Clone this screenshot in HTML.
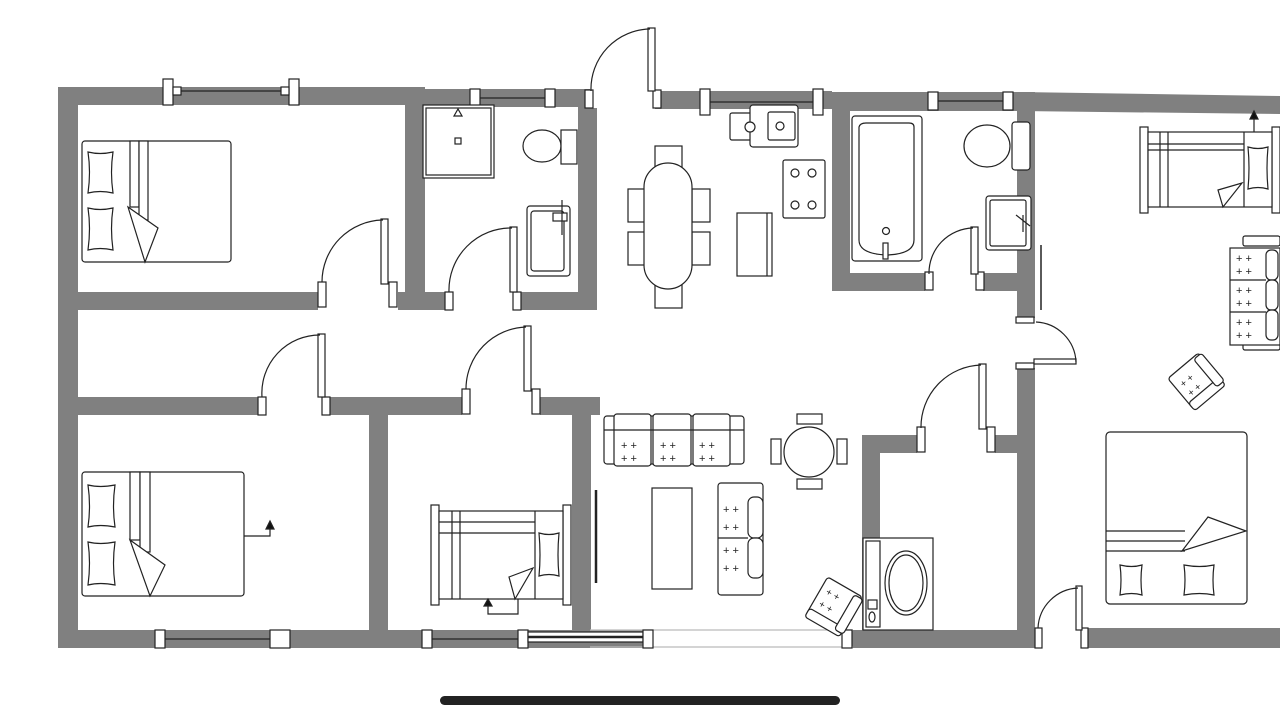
<!DOCTYPE html>
<html><head><meta charset="utf-8"><style>
html,body{margin:0;padding:0;background:#fff;width:1280px;height:720px;overflow:hidden}
svg{display:block}
</style></head><body>
<svg width="1280" height="720" viewBox="0 0 1280 720" xmlns="http://www.w3.org/2000/svg">
<g fill="#808080">
<rect x="58" y="87" width="20" height="561"/>
<rect x="58" y="87" width="367" height="18"/>
<rect x="405" y="89" width="185" height="18"/>
<rect x="655" y="91" width="177" height="18"/>
<rect x="832" y="92" width="190" height="19"/>
<polygon points="1018,92 1280,96 1280,114 1018,111"/>
<rect x="58" y="630" width="795" height="18"/>
<rect x="853" y="630" width="182" height="18"/>
<rect x="1088" y="628" width="192" height="20"/>
<rect x="405" y="87" width="20" height="223"/>
<rect x="578" y="90" width="19" height="220"/>
<rect x="58" y="292" width="539" height="18"/>
<rect x="58" y="397" width="542" height="18"/>
<rect x="369" y="397" width="19" height="251"/>
<rect x="572" y="397" width="19" height="251"/>
<rect x="832" y="92" width="18" height="199"/>
<rect x="832" y="273" width="190" height="18"/>
<rect x="1017" y="92" width="18" height="226"/>
<rect x="1017" y="368" width="18" height="280"/>
<rect x="862" y="435" width="160" height="18"/>
<rect x="862" y="435" width="18" height="195"/>
</g>
<g fill="#fff" stroke="#222" stroke-width="1.2">
<rect x="318" y="291" width="80" height="20" stroke="none"/>
<rect x="445" y="291" width="75" height="20" stroke="none"/>
<rect x="258" y="396" width="72" height="20" stroke="none"/>
<rect x="462" y="396" width="78" height="20" stroke="none"/>
<rect x="590" y="86" width="68" height="22" stroke="none"/>
<rect x="925" y="272" width="58" height="20" stroke="none"/>
<rect x="917" y="434" width="78" height="20" stroke="none"/>
<rect x="1016" y="318" width="20" height="50" stroke="none"/>
<rect x="1035" y="627" width="53" height="22" stroke="none"/>
<rect x="653" y="629" width="190" height="20" stroke="none"/>
<line x1="590" y1="630" x2="853" y2="630" stroke="#bbb"/>
<line x1="590" y1="647" x2="853" y2="647" stroke="#bbb"/>
<rect x="163" y="79" width="10" height="26"/><rect x="289" y="79" width="10" height="26"/>
<rect x="173" y="87" width="8" height="8"/><rect x="281" y="87" width="8" height="8"/>
<line x1="181" y1="91" x2="281" y2="91"/>
<rect x="470" y="89" width="10" height="18"/><rect x="545" y="89" width="10" height="18"/>
<line x1="480" y1="98" x2="545" y2="98"/>
<rect x="700" y="89" width="10" height="26"/><rect x="813" y="89" width="10" height="26"/>
<line x1="710" y1="102" x2="813" y2="102"/>
<rect x="928" y="92" width="10" height="18"/><rect x="1003" y="92" width="10" height="18"/>
<line x1="938" y1="101" x2="1003" y2="101"/>
<rect x="155" y="630" width="10" height="18"/><rect x="270" y="630" width="20" height="18"/>
<line x1="165" y1="639" x2="270" y2="639"/>
<rect x="422" y="630" width="10" height="18"/><rect x="518" y="630" width="10" height="18"/>
<line x1="432" y1="639" x2="518" y2="639"/>
<rect x="528" y="632" width="115" height="10" fill="#fff"/>
<line x1="528" y1="637" x2="643" y2="637" stroke-width="2.5"/>
<rect x="643" y="630" width="10" height="18"/><rect x="842" y="630" width="10" height="18"/>
<rect x="318" y="282" width="8" height="25"/><rect x="389" y="282" width="8" height="25"/>
<rect x="381" y="219" width="7" height="65"/><path d="M322,282 A62,62 0 0 1 383,220" fill="none"/>
<rect x="445" y="292" width="8" height="18"/><rect x="513" y="292" width="8" height="18"/>
<rect x="510" y="227" width="7" height="65"/><path d="M449,292 A62,62 0 0 1 512,228" fill="none"/>
<rect x="258" y="397" width="8" height="18"/><rect x="322" y="397" width="8" height="18"/>
<rect x="318" y="334" width="7" height="63"/><path d="M262,397 A58,58 0 0 1 320,335" fill="none"/>
<rect x="462" y="389" width="8" height="25"/><rect x="532" y="389" width="8" height="25"/>
<rect x="524" y="326" width="7" height="65"/><path d="M466,389 A62,62 0 0 1 526,327" fill="none"/>
<rect x="585" y="90" width="8" height="18"/><rect x="653" y="90" width="8" height="18"/>
<rect x="648" y="28" width="7" height="63"/><path d="M591,91 A60,60 0 0 1 650,29" fill="none"/>
<rect x="925" y="272" width="8" height="18"/><rect x="976" y="272" width="8" height="18"/>
<rect x="971" y="227" width="7" height="47"/><path d="M929,274 A45,45 0 0 1 973,228" fill="none"/>
<rect x="917" y="427" width="8" height="25"/><rect x="987" y="427" width="8" height="25"/>
<rect x="979" y="364" width="7" height="65"/><path d="M921,428 A62,62 0 0 1 981,365" fill="none"/>
<rect x="1016" y="317" width="18" height="6"/><rect x="1016" y="363" width="18" height="6"/>
<rect x="1034" y="359" width="42" height="5"/><path d="M1036,322 A42,42 0 0 1 1076,362" fill="none"/>
<line x1="1041" y1="245" x2="1041" y2="310" stroke-width="1.5"/>
<rect x="1035" y="628" width="7" height="20"/><rect x="1081" y="628" width="7" height="20"/>
<rect x="1076" y="586" width="6" height="44"/><path d="M1038,628 A42,42 0 0 1 1078,588" fill="none"/>
<rect x="82" y="141" width="149" height="121" rx="3"/>
<rect x="130" y="141" width="9" height="66"/><rect x="139" y="141" width="9" height="79"/>
<path d="M88,152 Q100,155 113,152 Q110,172 113,193 Q100,190 88,193 Q91,172 88,152Z"/>
<path d="M88,208 Q100,211 113,208 Q110,228 113,250 Q100,247 88,250 Q91,228 88,208Z"/>
<polygon points="128,207 158,228 145,262"/>
<rect x="82" y="472" width="162" height="124" rx="3"/>
<rect x="130" y="472" width="10" height="68"/><rect x="140" y="472" width="10" height="80"/>
<path d="M88,485 Q100,488 115,485 Q112,506 115,527 Q100,524 88,527 Q91,506 88,485Z"/>
<path d="M88,542 Q100,545 115,542 Q112,563 115,585 Q100,582 88,585 Q91,563 88,542Z"/>
<polygon points="130,540 165,565 150,596"/>
<polyline points="244,536 270,536 270,527" fill="none"/><polygon points="266,529 274,529 270,521" fill="#111"/>
<rect x="431" y="505" width="8" height="100"/><rect x="563" y="505" width="8" height="100"/>
<rect x="439" y="511" width="124" height="88"/>
<line x1="439" y1="522" x2="535" y2="522"/><line x1="439" y1="533" x2="535" y2="533"/>
<line x1="452" y1="511" x2="452" y2="599"/><line x1="460" y1="511" x2="460" y2="599"/>
<line x1="535" y1="511" x2="535" y2="599"/>
<path d="M539,533 Q549,536 559,533 Q557,555 559,576 Q549,573 539,576 Q541,555 539,533Z"/>
<polygon points="509,577 533,568 515,599"/>
<polyline points="488,606 488,614 518,614 518,599" fill="none"/><polygon points="484,606 492,606 488,599" fill="#111"/>
<rect x="423" y="105" width="71" height="73"/><rect x="426" y="108" width="65" height="67"/>
<polygon points="454,116 462,116 458,109"/><rect x="455" y="138" width="6" height="6"/>
<ellipse cx="542" cy="146" rx="19" ry="16"/><rect x="561" y="130" width="16" height="34"/>
<rect x="527" y="206" width="43" height="70" rx="3"/><rect x="531" y="211" width="33" height="60" rx="3"/>
<rect x="553" y="213" width="14" height="8"/><line x1="562" y1="200" x2="562" y2="235"/>
<rect x="730" y="113" width="40" height="27" rx="2"/><rect x="750" y="105" width="48" height="42" rx="3"/>
<rect x="768" y="112" width="27" height="28" rx="2"/>
<circle cx="750" cy="127" r="5"/><circle cx="780" cy="126" r="4"/>
<rect x="783" y="160" width="42" height="58" rx="2"/>
<circle cx="795" cy="173" r="4"/><circle cx="812" cy="173" r="4"/><circle cx="795" cy="205" r="4"/><circle cx="812" cy="205" r="4"/>
<rect x="737" y="213" width="35" height="63"/><line x1="767" y1="213" x2="767" y2="276"/>
<rect x="655" y="146" width="27" height="24"/><rect x="655" y="284" width="27" height="24"/>
<rect x="628" y="189" width="18" height="33"/><rect x="628" y="232" width="18" height="33"/>
<rect x="692" y="189" width="18" height="33"/><rect x="692" y="232" width="18" height="33"/>
<rect x="644" y="163" width="48" height="126" rx="24"/>
<rect x="852" y="116" width="70" height="145" rx="3"/>
<path d="M859,127 Q860,123 866,123 L909,123 Q914,123 914,127 L914,240 Q914,254 887,255 Q859,254 859,240Z"/>
<circle cx="886" cy="231" r="3.5"/><rect x="883" y="243" width="5" height="16"/>
<ellipse cx="987" cy="146" rx="23" ry="21"/><rect x="1012" y="122" width="18" height="48" rx="3"/>
<rect x="986" y="196" width="45" height="54" rx="3"/><rect x="990" y="200" width="36" height="46" rx="2"/>
<line x1="1016" y1="215" x2="1030" y2="226"/><line x1="1023" y1="215" x2="1023" y2="232"/>
<rect x="604" y="416" width="140" height="48" rx="3"/>
<rect x="614" y="414" width="37" height="52" rx="3"/><rect x="653" y="414" width="38" height="52" rx="3"/><rect x="693" y="414" width="37" height="52" rx="3"/>
<line x1="604" y1="430" x2="744" y2="430"/>
<line x1="596" y1="490" x2="596" y2="583" stroke-width="2.5"/>
<rect x="652" y="488" width="40" height="101"/>
<rect x="718" y="483" width="45" height="112" rx="3"/>
<rect x="748" y="497" width="15" height="41" rx="6"/><rect x="748" y="538" width="15" height="40" rx="6"/>
<line x1="718" y1="538" x2="748" y2="538"/>
<rect x="797" y="414" width="25" height="10"/><rect x="797" y="479" width="25" height="10"/>
<rect x="771" y="439" width="10" height="25"/><rect x="837" y="439" width="10" height="25"/>
<circle cx="809" cy="452" r="25"/>
<g transform="rotate(30 834 606)"><rect x="814" y="584" width="40" height="44" rx="3"/><rect x="814" y="620" width="40" height="10" rx="3"/><rect x="846" y="586" width="10" height="40" rx="3"/>
<text x="820" y="600" font-family="Liberation Sans,sans-serif" font-size="10" fill="#222" stroke="none">+ +</text><text x="820" y="614" font-family="Liberation Sans,sans-serif" font-size="10" fill="#222" stroke="none">+ +</text></g>
<rect x="863" y="538" width="70" height="92"/><rect x="866" y="541" width="14" height="86"/>
<ellipse cx="906" cy="583" rx="21" ry="32"/><ellipse cx="906" cy="583" rx="17" ry="28"/>
<rect x="868" y="600" width="9" height="9"/><ellipse cx="872" cy="617" rx="3" ry="5"/>
<rect x="1140" y="127" width="8" height="86"/><rect x="1272" y="127" width="8" height="86"/>
<rect x="1148" y="132" width="124" height="75"/>
<line x1="1148" y1="144" x2="1244" y2="144"/><line x1="1148" y1="150" x2="1244" y2="150"/>
<line x1="1160" y1="132" x2="1160" y2="207"/><line x1="1168" y1="132" x2="1168" y2="207"/>
<line x1="1244" y1="132" x2="1244" y2="207"/>
<path d="M1248,147 Q1258,150 1268,147 Q1266,168 1268,189 Q1258,186 1248,189 Q1250,168 1248,147Z"/>
<polygon points="1218,190 1242,183 1223,207"/>
<line x1="1254" y1="132" x2="1254" y2="117"/><polygon points="1250,119 1258,119 1254,111" fill="#111"/>
<rect x="1243" y="236" width="37" height="10" rx="2"/><rect x="1243" y="340" width="37" height="10" rx="2"/>
<rect x="1230" y="248" width="50" height="97"/>
<rect x="1266" y="250" width="12" height="30" rx="5"/><rect x="1266" y="280" width="12" height="30" rx="5"/><rect x="1266" y="310" width="12" height="30" rx="5"/>
<line x1="1230" y1="280" x2="1266" y2="280"/><line x1="1230" y1="312" x2="1266" y2="312"/>
<g transform="rotate(-40 1196 381)"><rect x="1176" y="361" width="40" height="40" rx="3"/><rect x="1176" y="393" width="40" height="10" rx="3"/><rect x="1208" y="363" width="10" height="36" rx="3"/>
<text x="1182" y="378" font-family="Liberation Sans,sans-serif" font-size="10" fill="#222" stroke="none">+ +</text><text x="1182" y="390" font-family="Liberation Sans,sans-serif" font-size="10" fill="#222" stroke="none">+ +</text></g>
<rect x="1106" y="432" width="141" height="172" rx="4"/>
<line x1="1106" y1="531" x2="1185" y2="531"/><line x1="1106" y1="541" x2="1185" y2="541"/><line x1="1106" y1="551" x2="1185" y2="551"/>
<polygon points="1182,551 1208,517 1246,531"/>
<path d="M1120,565 Q1132,568 1142,565 Q1140,580 1142,595 Q1132,592 1120,595 Q1122,580 1120,565Z"/>
<path d="M1184,565 Q1200,568 1214,565 Q1212,580 1214,595 Q1200,592 1184,595 Q1186,580 1184,565Z"/>
</g>
<g font-family="Liberation Sans,sans-serif" font-size="11" fill="#222">
<text x="621" y="449">+ +</text><text x="621" y="462">+ +</text>
<text x="660" y="449">+ +</text><text x="660" y="462">+ +</text>
<text x="699" y="449">+ +</text><text x="699" y="462">+ +</text>
<text x="723" y="513">+ +</text><text x="723" y="531">+ +</text>
<text x="723" y="554">+ +</text><text x="723" y="572">+ +</text>
<text x="1236" y="262">+ +</text><text x="1236" y="275">+ +</text>
<text x="1236" y="294">+ +</text><text x="1236" y="307">+ +</text>
<text x="1236" y="326">+ +</text><text x="1236" y="339">+ +</text>
</g>
<rect x="440" y="696" width="400" height="9" rx="4.5" fill="#222"/>
</svg>
</body></html>
